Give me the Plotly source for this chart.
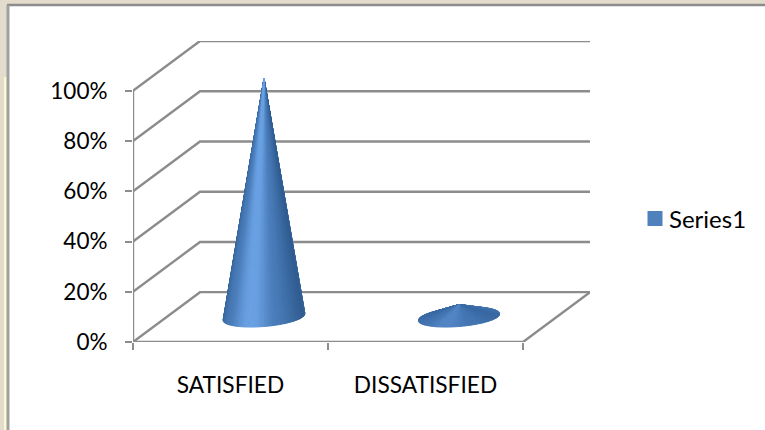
import math
import plotly.graph_objects as go

# Chart data
categories = ["SATISFIED", "DISSATISFIED"]
series_name = "Series1"
values = [95, 5]
y_ticks = [0, 20, 40, 60, 80, 100]

# Oblique 3D box: how far the back wall sits from the front plane, in axis units
DEPTH_X = 0.3436
DEPTH_Y = 19.84
# Cone base radius along the category axis, and as a share of the box depth
BASE_RADIUS_X = 0.198
BASE_RADIUS_DEPTH = 0.2
FACETS = 90

GRID = "#8c8c8c"
FONT = "Lato, Carlito, Calibri, sans-serif"
DARK = (48, 92, 144)
MID = (74, 124, 184)
LIGHT = (110, 166, 232)
FLAT = (62, 112, 174)


def mix(a, b, t):
    return tuple(a[i] + (b[i] - a[i]) * t for i in range(3))


def facet_color(angle, value):
    # Light falls on the front of the cone; flat cones show little contrast
    face = math.cos(angle + math.pi / 2) ** 2
    if face > 0.6:
        rgb = mix(MID, LIGHT, ((face - 0.6) / 0.4) ** 2)
    else:
        rgb = mix(DARK, MID, (face / 0.6) ** 0.8)
    rgb = mix(FLAT, rgb, value / (value + 8))
    return "rgb(%d,%d,%d)" % rgb


def base_point(center, angle):
    s = math.sin(angle) * BASE_RADIUS_DEPTH
    return (
        center + BASE_RADIUS_X * math.cos(angle) + s * DEPTH_X,
        DEPTH_Y / 2 + s * DEPTH_Y,
    )


fig = go.Figure()

# Side walls and floor edges
wall_x, wall_y = [], []
for v in y_ticks:
    wall_x += [0, DEPTH_X, 2 + DEPTH_X, None]
    wall_y += [v, v + DEPTH_Y, v + DEPTH_Y, None]
wall_x += [0, 2, 2 + DEPTH_X, None, 0, 0]
wall_y += [0, 0, DEPTH_Y, None, 0, y_ticks[-1]]
fig.add_trace(go.Scatter(
    x=wall_x, y=wall_y, mode="lines", line=dict(color=GRID, width=2.4),
    cliponaxis=False, showlegend=False, hoverinfo="skip",
))

# Each cone is built from narrow facets running from the tip to the base rim,
# back of the cone first so the front facets paint over them
for i, value in enumerate(values):
    center = i + 0.5 + DEPTH_X / 2
    tip = (center, DEPTH_Y / 2 + value)
    steps = [2 * math.pi * k / FACETS for k in range(FACETS)]
    steps.sort(key=lambda a: -math.sin(a))
    for a in steps:
        a2 = a + 2 * math.pi / FACETS
        p1, p2 = base_point(center, a), base_point(center, a2)
        color = facet_color(a + math.pi / FACETS, value)
        fig.add_trace(go.Scatter(
            x=[tip[0], p1[0], p2[0], tip[0]],
            y=[tip[1], p1[1], p2[1], tip[1]],
            mode="lines", fill="toself", fillcolor=color,
            line=dict(color=color, width=1),
            showlegend=False, hoverinfo="skip",
        ))

# Legend entry; the standoff brings the swatch closer to its label
fig.add_trace(go.Scatter(
    x=[None], y=[None], mode="markers", name=series_name,
    marker=dict(symbol="square", size=15, color="#4f81bd", angle=90, standoff=6),
))

# Page surround and panel border, placed in paper coordinates
L, R, T, B = 133, 175, 41, 88
W, H = 765, 430
plot_w, plot_h = W - L - R, H - T - B


def px(x):
    return (x - L) / plot_w


def py(y):
    return 1 - (y - T) / plot_h


BEIGE = "#e3dccd"
shapes = [
    dict(type="rect", xref="paper", yref="paper", layer="below",
         x0=px(0), x1=px(W), y0=py(0), y1=py(5), fillcolor=BEIGE, line_width=0),
    dict(type="rect", xref="paper", yref="paper", layer="below",
         x0=px(0), x1=px(7), y0=py(0), y1=py(H), fillcolor=BEIGE, line_width=0),
    dict(type="rect", xref="paper", yref="paper", layer="below",
         x0=px(4), x1=px(7), y0=py(77), y1=py(H), fillcolor="#fbf9d2", line_width=0),
    dict(type="line", xref="paper", yref="paper", layer="below",
         x0=px(7), x1=px(W), y0=py(5), y1=py(5), line=dict(color=GRID, width=2.4)),
    dict(type="line", xref="paper", yref="paper", layer="below",
         x0=px(8), x1=px(8), y0=py(5), y1=py(H), line=dict(color="#a0a0a0", width=3)),
]

fig.update_layout(
    width=W, height=H,
    margin=dict(l=L, r=R, t=T, b=B, pad=0),
    paper_bgcolor="white", plot_bgcolor="rgba(0,0,0,0)",
    font=dict(family=FONT, color="#000000"),
    shapes=shapes,
    showlegend=True,
    legend=dict(
        xref="paper", yref="paper",
        x=px(636), y=py(219), xanchor="left", yanchor="middle",
        font=dict(size=24, family=FONT), bgcolor="rgba(0,0,0,0)",
        itemwidth=30, indentation=-7,
    ),
    xaxis=dict(
        range=[0, 2 + DEPTH_X], showgrid=False, zeroline=False, showline=False,
        tickvals=[0.5, 1.5], ticktext=categories, ticks="",
        tickfont=dict(size=22.7), ticklabelstandoff=27,
        minor=dict(tickvals=[0, 1, 2], ticks="outside", ticklen=7, tickwidth=2.4,
                   tickcolor=GRID, showgrid=False),
    ),
    yaxis=dict(
        range=[0, 100 + DEPTH_Y], showgrid=False, zeroline=False, showline=False,
        tickvals=y_ticks, ticktext=["%d%%" % v for v in y_ticks],
        ticks="outside", ticklen=7, tickwidth=2.4, tickcolor=GRID,
        tickfont=dict(size=22.5), ticklabelstandoff=13,
    ),
)

fig.write_html("out.html")
